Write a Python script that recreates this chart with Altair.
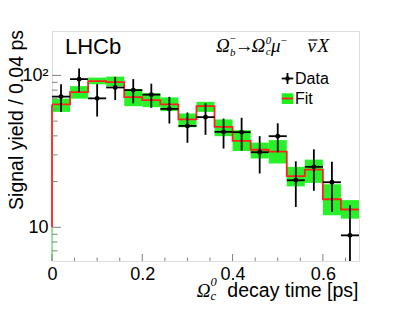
import altair as alt
import pandas as pd

# ---- data ----
BIN_LO = [0.00, 0.04, 0.08, 0.12, 0.16, 0.20, 0.24, 0.28, 0.32, 0.36, 0.40, 0.44, 0.48, 0.52, 0.56, 0.60, 0.64]
BIN_HI = [0.04, 0.08, 0.12, 0.16, 0.20, 0.24, 0.28, 0.32, 0.36, 0.40, 0.44, 0.48, 0.52, 0.56, 0.60, 0.64, 0.68]
YIELD = [72.5, 94.5, 70.6, 83.3, 80.0, 74.7, 60.2, 46.5, 53.1, 42.5, 42.3, 31.2, 39.8, 20.4, 25.0, 19.8, 8.85]
ERR = [15.0, 16.5, 17.0, 14.5, 14.5, 13.5, 12.0, 10.5, 12.5, 9.5, 10.3, 8.6, 8.6, 6.8, 7.6, 7.2, 5.1]
FIT = [64.4, 77.6, 91.7, 90.3, 71.9, 68.7, 64.4, 51.3, 62.7, 45.8, 37.1, 32.4, 31.5, 21.7, 24.0, 15.3, 13.1]
FIT_LO = [57.5, 70.3, 87.4, 85.0, 62.7, 61.8, 58.2, 45.6, 57.5, 39.8, 31.8, 28.4, 26.3, 18.6, 19.6, 12.0, 11.4]
FIT_HI = [70.3, 85.0, 96.7, 98.2, 81.2, 76.4, 71.6, 56.2, 67.0, 51.3, 43.6, 36.1, 37.5, 25.0, 27.9, 19.2, 15.1]

X_DOMAIN = [0.0, 0.68]
Y_DOMAIN = [6, 196]
X_MAJOR = [0.0, 0.2, 0.4, 0.6]
X_MINOR = [0.05, 0.1, 0.15, 0.25, 0.3, 0.35, 0.45, 0.5, 0.55, 0.65]
Y_MAJOR = [10, 100]
Y_MINOR = [7, 8, 9, 20, 30, 40, 50, 60, 70, 80, 90]

W, H = 307, 230
FRAME = "#808080"
GREEN = "#1ef01e"
RED = "#ff2020"
SANS = "Liberation Sans"
SERIF = "Liberation Serif"

df = pd.DataFrame({"lo": BIN_LO, "hi": BIN_HI, "yv": YIELD, "err": ERR,
                   "fit": FIT, "flo": FIT_LO, "fhi": FIT_HI})
df["c"] = (df["lo"] + df["hi"]) / 2
df["ylo"] = df["yv"] - df["err"]
df["yhi"] = df["yv"] + df["err"]

step = pd.DataFrame({"x": BIN_LO + [BIN_HI[-1]], "y": FIT + [FIT[-1]]})
edge = pd.DataFrame({"x": [BIN_LO[0]], "a": [Y_DOMAIN[0]], "b": [10], "f": [FIT[0]]})

xscale = alt.Scale(domain=X_DOMAIN, nice=False, zero=False)
yscale = alt.Scale(type="log", domain=Y_DOMAIN, nice=False)
xaxis = alt.Axis(values=X_MAJOR, title=None, tickSize=0, domain=False, grid=False,
                 labelFont=SANS, labelFontSize=18, labelColor="black", labelPadding=4,
                 labelFlush=False,
                 labelExpr="datum.value == 0 ? '0' : format(datum.value, '.1f')")
yaxis = alt.Axis(values=Y_MAJOR, title=None, tickSize=0, domain=False, grid=False,
                 labelFont=SANS, labelFontSize=18, labelColor="black", labelPadding=4,
                 labelExpr="datum.value == 100 ? '10²' : '10'")


def X(f):
    return alt.X(f, type="quantitative", scale=xscale, axis=xaxis)


def Y(f):
    return alt.Y(f, type="quantitative", scale=yscale, axis=yaxis)


base = alt.Chart(df)

band = base.mark_rect(color=GREEN, opacity=0.95).encode(
    x=X("lo"), x2="hi", y=Y("flo"), y2="fhi")

fitline = alt.Chart(step).mark_line(interpolate="step-after", color=RED, strokeWidth=1.8).encode(
    x=X("x"), y=Y("y"))

edge_green = alt.Chart(edge).mark_rule(color="#7ee07e", strokeWidth=1.5).encode(
    x=X("x"), y=Y("a"), y2="b")
edge_red = alt.Chart(edge).mark_rule(color=RED, strokeWidth=1.8).encode(
    x=X("x"), y=Y("b"), y2="f")

vbar = base.mark_rule(color="black", strokeWidth=1.8, clip=True).encode(
    x=X("c"), y=Y("ylo"), y2="yhi")
hbar = base.mark_rule(color="black", strokeWidth=1.8).encode(
    x=X("lo"), x2="hi", y=Y("yv"))
pts = base.mark_point(filled=True, shape="circle", size=24, color="black", opacity=1).encode(
    x=X("c"), y=Y("yv"))

# inside ticks (ROOT style)
xt_major = alt.Chart(pd.DataFrame({"t": X_MAJOR})).mark_rule(color=FRAME, strokeWidth=1).encode(
    x=X("t"), y=alt.value(H), y2=alt.value(H - 7))
xt_minor = alt.Chart(pd.DataFrame({"t": X_MINOR})).mark_rule(color=FRAME, strokeWidth=1).encode(
    x=X("t"), y=alt.value(H), y2=alt.value(H - 3.5))
yt_major = alt.Chart(pd.DataFrame({"t": Y_MAJOR})).mark_rule(color=FRAME, strokeWidth=1).encode(
    y=Y("t"), x=alt.value(0), x2=alt.value(9))
yt_minor = alt.Chart(pd.DataFrame({"t": Y_MINOR})).mark_rule(color=FRAME, strokeWidth=1).encode(
    y=Y("t"), x=alt.value(0), x2=alt.value(5.5))

ANN = pd.DataFrame({"k": [0]})


def txt(s, x, y, size, font=SANS, style="normal", align="left", baseline="alphabetic", angle=0):
    return alt.Chart(ANN).mark_text(text=s, fontSize=size, font=font, fontStyle=style,
                                    align=align, baseline=baseline, angle=angle,
                                    color="black").encode(x=alt.value(x), y=alt.value(y))


def seg(x1, y1, x2, y2, color="black", w=1.8):
    return alt.Chart(ANN).mark_rule(color=color, strokeWidth=w).encode(
        x=alt.value(x1), y=alt.value(y1), x2=alt.value(x2), y2=alt.value(y2))


annotations = [
    txt("LHCb", 13, 22.5, 22),
    # decay label
    txt("Ω", 164, 21.3, 19, SERIF, "italic"),
    txt("b", 178, 24.5, 11, SERIF, "italic"),
    txt("−", 177.5, 10.5, 11, SERIF),
    txt("→", 182.7, 20.8, 19, SERIF),
    txt("Ω", 199.5, 21.3, 19, SERIF, "italic"),
    txt("0", 213.8, 13, 11, SERIF, "italic"),
    txt("c", 213.8, 23.5, 11, SERIF, "italic"),
    txt("μ", 219, 21.3, 19, SERIF, "italic"),
    txt("−", 228.5, 13, 11, SERIF),
    txt("ν", 255.5, 21.3, 19, SERIF, "italic"),
    seg(256.5, 9, 265.5, 9, "black", 1.2),
    txt("X", 265.5, 21.3, 19, SERIF, "italic"),
    # legend
    seg(229.7, 47.5, 241.3, 47.5),
    seg(235.5, 42, 235.5, 53),
    txt("Data", 243, 47.5, 16, baseline="middle"),
    txt("Fit", 243, 67.5, 16, baseline="middle"),
    # x title
    txt("Ω", 144.7, 266, 19, SERIF, "italic"),
    txt("0", 158.5, 254.5, 12.5, SERIF, "italic"),
    txt("c", 158.5, 268.5, 12.5, SERIF, "italic"),
    txt("decay time [ps]", 306.5, 266, 19.5, align="right"),
    # y title
    txt("Signal yield / 0.04 ps", -29.3, -1, 19.5, align="right", angle=270),
]

leg_dot = alt.Chart(ANN).mark_point(filled=True, shape="circle", size=20, color="black", opacity=1).encode(
    x=alt.value(235.5), y=alt.value(47.5))
leg_box = alt.Chart(ANN).mark_rect(color=GREEN).encode(
    x=alt.value(229.7), x2=alt.value(241.3), y=alt.value(62.3), y2=alt.value(73))
leg_line = seg(229.7, 67.5, 241.3, 67.5, RED, 1.8)

chart = alt.layer(
    band, fitline, edge_green, edge_red,
    xt_major, xt_minor, yt_major, yt_minor,
    vbar, hbar, pts,
    leg_box, leg_line, leg_dot,
    *annotations,
).properties(
    width=W, height=H,
    autosize=alt.AutoSizeParams(type="none"),
    padding={"left": 44, "top": 23, "right": 32, "bottom": 40},
).configure_view(
    stroke=FRAME, strokeWidth=1.5
).configure(background="white")

chart.save("out.html", embed_options={"renderer": "svg", "actions": False})
